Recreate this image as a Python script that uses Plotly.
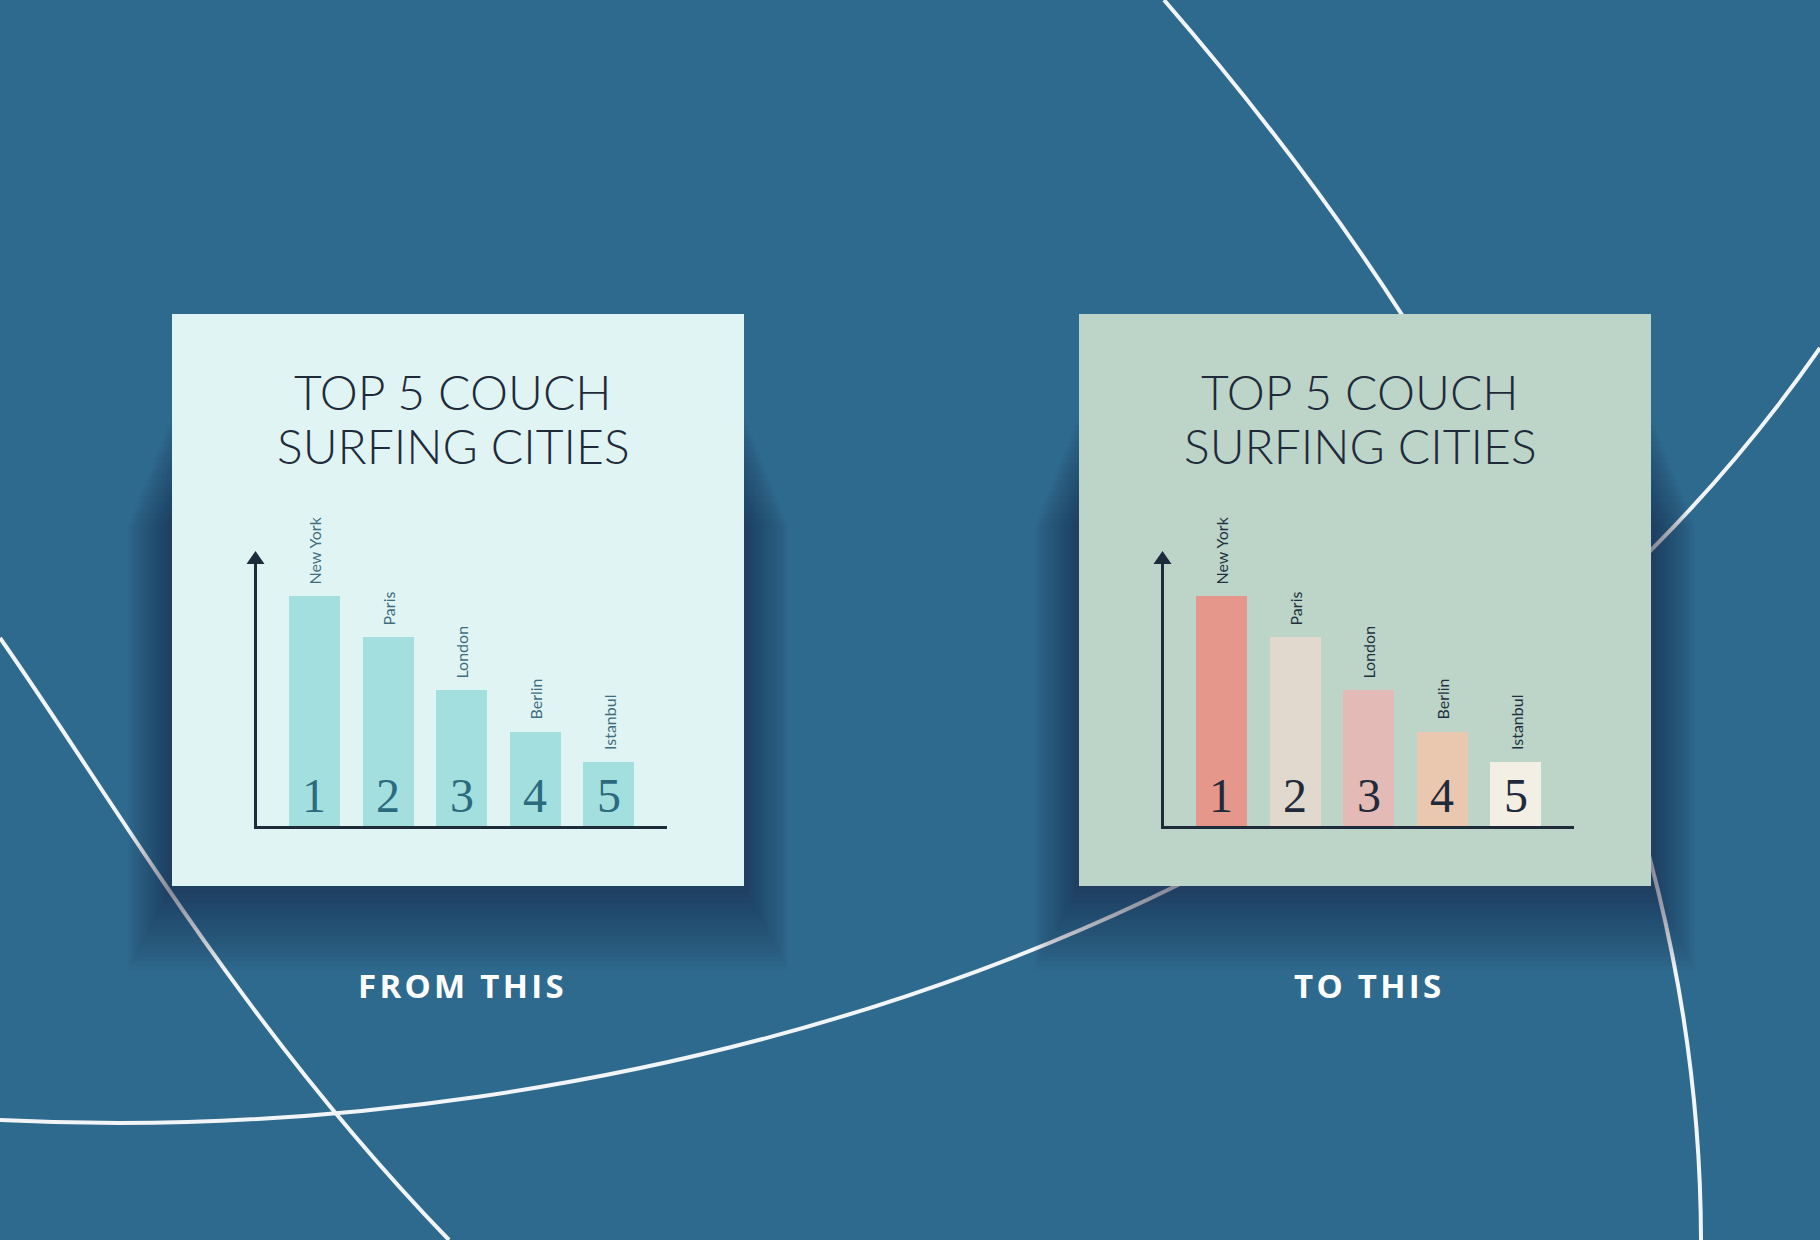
import plotly.graph_objects as go

W, H = 1820, 1240

# ---------------- data ----------------
cities = ["New York", "Paris", "London", "Berlin", "Istanbul"]
ranks = ["1", "2", "3", "4", "5"]
values = [100, 82, 59, 41, 28]
title_lines = ["TOP 5 COUCH", "SURFING CITIES"]
captions = ["FROM THIS", "TO THIS"]
before_colors = ["#A4DFDF"] * 5
after_colors = ["#E5978B", "#E1D9CE", "#E3BAB6", "#EAC8AF", "#F3EFE4"]

# ---------------- helpers ----------------
def px(x):
    return x / W


def py(y):
    return 1 - y / H


def P(x, y):
    return f"{px(x):.5f},{py(y):.5f}"


BG = "#2E6A8E"
AXIS = "#1E2B3A"

cards = [
    dict(x0=172, color="#E1F4F4", bars=before_colors, label="#3E6E7E", num="#2C6A7E", cap=captions[0], capx=461),
    dict(x0=1079, color="#BDD4C9", bars=after_colors, label="#22303E", num="#1F2B3A", cap=captions[1], capx=1367),
]
CARD_Y0, CARD_SIZE = 314, 572

fig = go.Figure()
shapes = []
annotations = []

# white background curves
curve_paths = [
    f"M {P(0,638)} C {P(115,802)} {P(240,1024)} {P(449,1240)}",
    f"M {P(0,1120)} C {P(600,1150)} {P(1400,950)} {P(1820,348)}",
    f"M {P(1164,0)} C {P(1450,330)} {P(1700,750)} {P(1701,1240)}",
]
for pth in curve_paths:
    shapes.append(dict(type="path", path=pth, xref="paper", yref="paper",
                       line=dict(color="#F2F5F7", width=4), layer="below"))

# soft shadows (mostly below the cards)
for c in cards:
    x0 = c["x0"]
    for k in range(1, 21):
        e = 2.2 * k
        shapes.append(dict(type="rect", xref="paper", yref="paper",
                           x0=px(x0 - 1.0 * e), x1=px(x0 + CARD_SIZE + 1.0 * e),
                           y0=py(CARD_Y0 + CARD_SIZE + 1.9 * e), y1=py(CARD_Y0 + 100 + 2.5 * e),
                           fillcolor="rgba(22,36,50,0.03)", line=dict(width=0), layer="below"))

# cards
for c in cards:
    x0 = c["x0"]
    shapes.append(dict(type="rect", xref="paper", yref="paper",
                       x0=px(x0), x1=px(x0 + CARD_SIZE), y0=py(CARD_Y0 + CARD_SIZE), y1=py(CARD_Y0),
                       fillcolor=c["color"], line=dict(width=0), layer="below"))

# axis geometry (relative to card left edge)
AX_LEFT, AX_RIGHT = 85, 495     # offsets from card x0
AX_BOTTOM, AX_TOP = 826, 563     # pixel rows
ARROW_TIP = 551
PX_PER_UNIT = 2.30
x_range = [-0.781, 4.789]
y_range = [0, (AX_BOTTOM - AX_TOP) / PX_PER_UNIT]

layout_axes = {}
for i, c in enumerate(cards):
    x0 = c["x0"]
    sfx = "" if i == 0 else str(i + 1)
    xa, ya = "x" + sfx, "y" + sfx
    fig.add_trace(go.Bar(
        x=list(range(len(cities))), y=values, width=0.693,
        marker=dict(color=c["bars"], line=dict(width=0)),
        xaxis=xa, yaxis=ya, hoverinfo="skip", showlegend=False))
    layout_axes["xaxis" + sfx] = dict(
        domain=[px(x0 + AX_LEFT), px(x0 + AX_RIGHT)], range=x_range, anchor=ya,
        showgrid=False, zeroline=False, showticklabels=False, ticks="",
        showline=True, linecolor=AXIS, linewidth=3, fixedrange=True)
    layout_axes["yaxis" + sfx] = dict(
        domain=[py(AX_BOTTOM), py(AX_TOP)], range=y_range, anchor=xa,
        showgrid=False, zeroline=False, showticklabels=False, ticks="",
        showline=True, linecolor=AXIS, linewidth=3, fixedrange=True)

    # arrowhead on the y axis
    ax_x = x0 + AX_LEFT - 1.5
    shapes.append(dict(type="path", xref="paper", yref="paper",
                       path=f"M {P(ax_x-9, AX_TOP+1)} L {P(ax_x, ARROW_TIP)} L {P(ax_x+9, AX_TOP+1)} Z",
                       fillcolor=AXIS, line=dict(width=0), layer="above"))

    # titles
    cx = x0 + 281
    for line_text, yc in zip(title_lines, [391, 445]):
        annotations.append(dict(text=line_text, xref="paper", yref="paper",
                                x=px(cx), y=py(yc), xanchor="center", yanchor="middle",
                                showarrow=False,
                                font=dict(family="Lato", size=48, color="#1F2B3A", weight=300)))

    # city labels and rank numbers
    for j, (city, rank, v) in enumerate(zip(cities, ranks, values)):
        annotations.append(dict(text=city, xref=xa, yref=ya, x=j, y=v,
                                xanchor="center", yanchor="bottom", yshift=10,
                                textangle=-90, showarrow=False,
                                font=dict(family="Lato", size=16, color=c["label"])))
        annotations.append(dict(text=rank, xref=xa, yref=ya, x=j, y=0,
                                xanchor="center", yanchor="bottom", yshift=2,
                                showarrow=False,
                                font=dict(family="Liberation Serif", size=48, color=c["num"])))

    # caption
    cap = "\u200a".join(list(c["cap"]))
    annotations.append(dict(text=cap, xref="paper", yref="paper",
                            x=px(c["capx"]), y=py(985), xanchor="center", yanchor="middle",
                            showarrow=False,
                            font=dict(family="Open Sans", size=33, color="#FFFFFF", weight=700)))

fig.update_layout(
    width=W, height=H,
    margin=dict(l=0, r=0, t=0, b=0),
    paper_bgcolor=BG, plot_bgcolor="rgba(0,0,0,0)",
    shapes=shapes, annotations=annotations,
    bargap=0, showlegend=False,
    **layout_axes,
)

fig.write_html(
    "out.html",
    config={"displayModeBar": False},
    post_script="document.body.style.margin='0px';document.body.style.overflow='hidden';",
)
